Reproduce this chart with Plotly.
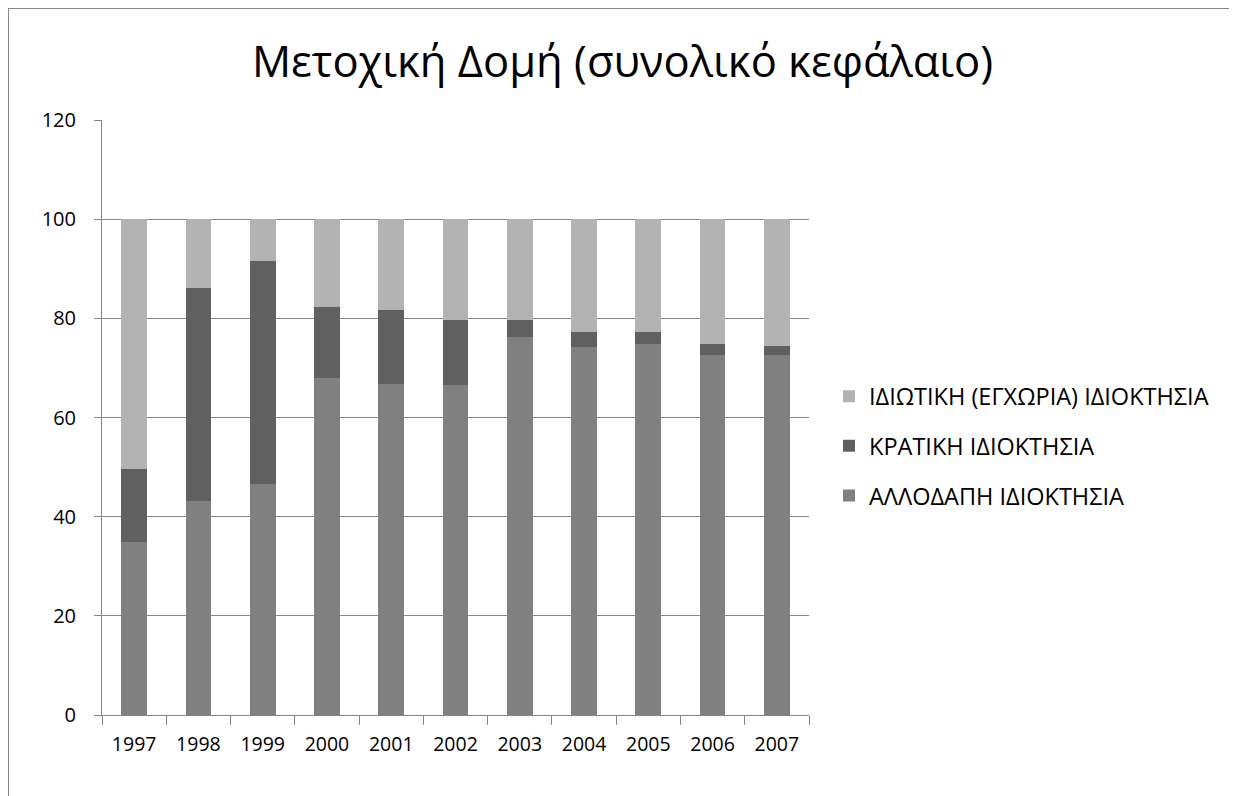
import plotly.graph_objects as go

years = ["1997", "1998", "1999", "2000", "2001", "2002", "2003", "2004", "2005", "2006", "2007"]
foreign = [34.8, 43.1, 46.6, 67.9, 66.7, 66.5, 76.2, 74.2, 74.8, 72.6, 72.6]
state = [14.9, 43.0, 44.9, 14.4, 15.0, 13.1, 3.4, 3.0, 2.4, 2.2, 1.8]
private = [50.3, 13.9, 8.5, 17.7, 18.3, 20.4, 20.4, 22.8, 22.8, 25.2, 25.6]

names = ["ΑΛΛΟΔΑΠΗ ΙΔΙΟΚΤΗΣΙΑ", "ΚΡΑΤΙΚΗ ΙΔΙΟΚΤΗΣΙΑ", "ΙΔΙΩΤΙΚΗ (ΕΓΧΩΡΙΑ) ΙΔΙΟΚΤΗΣΙΑ"]
colors = ["#808080", "#606060", "#b3b3b3"]

FONT = "Open Sans, Noto Sans, sans-serif"

fig = go.Figure()
for i, (name, vals, col) in enumerate(zip(names, [foreign, state, private], colors)):
    fig.add_trace(go.Bar(x=years, y=vals, name=name, legendgroup=f"g{i}", legendrank=3 - i,
                         marker=dict(color=col, line=dict(width=0))))

# page body has an 8px offset; figure edge = reference frame line
OX, OY = 8, 8
W, H = 1229, 788
L = 102 - OX
T = 120 - OY
R = W - (809 - OX)
B = H - (715 - OY)
pw, ph = W - L - R, H - T - B

def px_x(px):
    return (px - OX - L) / pw

def px_y(py):
    return (H - B - (py - OY)) / ph

fig.update_layout(
    width=W, height=H,
    barmode="stack", bargap=0.6,
    paper_bgcolor="white", plot_bgcolor="white",
    margin=dict(l=L, r=R, t=T, b=B, pad=0),
    font=dict(family=FONT, size=19, color="#000000"),
    title=dict(text="Μετοχική Δομή (συνολικό κεφάλαιο)", x=0.5, xanchor="center",
               y=1 - (62 - OY) / H, yanchor="middle", font=dict(size=43.5, family=FONT, color="#000000")),
    legend=dict(x=px_x(829), xanchor="left", y=px_y(446), yanchor="middle",
                traceorder="grouped", font=dict(size=23.5, family=FONT),
                itemsizing="constant", tracegroupgap=16, bgcolor="rgba(0,0,0,0)"),
    xaxis=dict(type="category", showgrid=False, showline=True, linecolor="#868686", linewidth=1,
               ticks="outside", tickson="boundaries", ticklen=9, tickcolor="#868686",
               tickfont=dict(size=19.5), ticklabelstandoff=12),
    yaxis=dict(range=[0, 120], dtick=20, showgrid=True, gridcolor="#868686", gridwidth=1,
               showline=True, linecolor="#868686", linewidth=1, ticks="outside", ticklen=7,
               tickcolor="#868686", zeroline=False, tickfont=dict(size=20), ticklabelstandoff=14),
    shapes=[
        dict(type="line", xref="paper", yref="paper", x0=px_x(8), x1=px_x(1240), y0=px_y(8), y1=px_y(8),
             line=dict(color="#888888", width=2)),
        dict(type="line", xref="paper", yref="paper", x0=px_x(8), x1=px_x(8), y0=px_y(8), y1=px_y(800),
             line=dict(color="#888888", width=2)),
    ],
)

fig.write_html("out.html")
